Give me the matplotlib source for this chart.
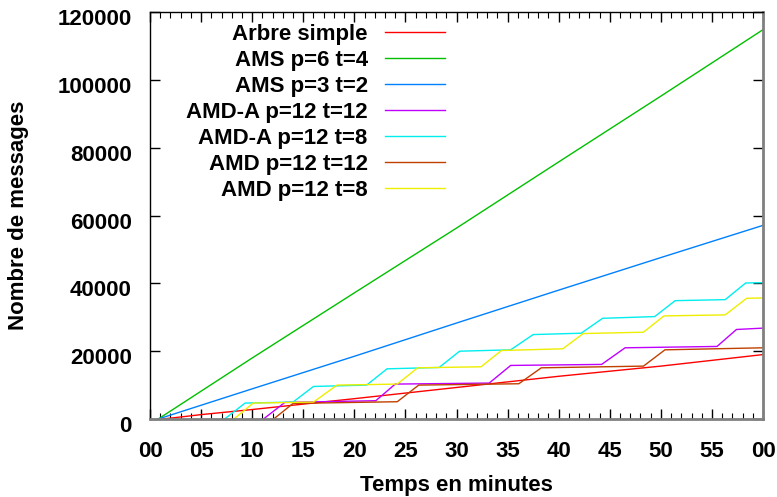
import matplotlib
matplotlib.use("Agg")
import matplotlib.pyplot as plt
import matplotlib.transforms as mtransforms
from matplotlib.ticker import MultipleLocator

plt.rcParams['font.family'] = ['Liberation Sans', 'DejaVu Sans']
plt.rcParams['font.weight'] = 'bold'

# minutes / number of messages (polyline vertices)
arbre_t = [1.2, 3.0, 5.0, 10.0, 20.0, 30.0, 40.0, 50.0, 60.0]
arbre_v = [0, 600, 1300, 2800, 6000, 9300, 12600, 15600, 19000]

ams64_t = [0.8, 10.0, 20.0, 30.0, 40.0, 50.0, 60.0]
ams64_v = [0, 18000, 37200, 56300, 75800, 95200, 114800]

ams32_t = [0.8, 10.0, 20.0, 30.0, 40.0, 50.0, 60.0]
ams32_v = [0, 8900, 18500, 28300, 38000, 47600, 57100]

amda1212_t = [11.1, 13.2, 22.1, 24.0, 33.2, 35.3, 44.2, 46.5, 55.5, 57.4, 60.0]
amda1212_v = [0, 4900, 5400, 10300, 10600, 15800, 16100, 21000, 21400, 26400, 26800]

amda128_t = [7.3, 9.3, 14.0, 16.0, 21.2, 23.2, 28.3, 30.3, 35.3, 37.5,
             42.2, 44.3, 49.4, 51.4, 56.3, 58.3, 60.0]
amda128_v = [0, 4700, 5000, 9600, 10000, 14800, 15200, 20000, 20400, 24900,
             25300, 29700, 30200, 34900, 35200, 40100, 40200]

amd1212_t = [12.1, 14.0, 24.2, 26.3, 36.1, 38.3, 48.3, 50.4, 60.0]
amd1212_v = [0, 4600, 5100, 10000, 10400, 15100, 15600, 20400, 21000]

amd128_t = [8.2, 10.1, 16.0, 18.3, 24.2, 26.2, 32.4, 34.4, 40.4, 42.4,
            48.3, 50.3, 56.3, 58.4, 60.0]
amd128_v = [0, 4700, 5000, 10000, 10300, 15100, 15400, 20200, 20700, 25200,
            25600, 30400, 30700, 35600, 35700]

xtick_pos = [0, 5, 10, 15, 20, 25, 30, 35, 40, 45, 50, 55, 60]
xtick_lab = ['00', '05', '10', '15', '20', '25', '30', '35', '40', '45', '50', '55', '00']
ytick_pos = [0, 20000, 40000, 60000, 80000, 100000, 120000]

fig = plt.figure(figsize=(7.77, 4.97), dpi=100)
ax = fig.add_axes([0.1931, 0.1569, 0.7889, 0.8189])

ax.plot(arbre_t, arbre_v, color='#ff0000', lw=1.0, label='Arbre simple')
ax.plot(ams64_t, ams64_v, color='#00c000', lw=1.0, label='AMS p=6 t=4')
ax.plot(ams32_t, ams32_v, color='#0080ff', lw=1.0, label='AMS p=3 t=2')
ax.plot(amda1212_t, amda1212_v, color='#c000ff', lw=1.0, label='AMD-A p=12 t=12')
ax.plot(amda128_t, amda128_v, color='#00eeee', lw=1.0, label='AMD-A p=12 t=8')
ax.plot(amd1212_t, amd1212_v, color='#c04000', lw=1.0, label='AMD p=12 t=12')
ax.plot(amd128_t, amd128_v, color='#eeee00', lw=1.0, label='AMD p=12 t=8')

ax.set_xlim(0, 60)
ax.set_ylim(0, 120000)
ax.set_xticks(xtick_pos)
ax.set_xticklabels(xtick_lab)
ax.set_yticks(ytick_pos)
ax.xaxis.set_minor_locator(MultipleLocator(1))

ax.tick_params(axis='both', which='both', direction='in', top=True, right=True,
               labelsize=16, colors='black')
ax.tick_params(axis='both', which='major', length=7, width=1)
ax.tick_params(axis='x', which='minor', length=4, width=0.8)
ax.tick_params(axis='x', which='major', pad=16)
ax.tick_params(axis='y', which='major', pad=13)
for lab in ax.get_xticklabels() + ax.get_yticklabels():
    lab.set_fontweight('bold')

# gnuplot puts the y labels a little below their ticks
shift = mtransforms.ScaledTranslation(0, -5 / 100, fig.dpi_scale_trans)
for tick in ax.yaxis.get_major_ticks():
    tick.label1.set_transform(tick.label1.get_transform() + shift)

for side in ['left', 'top']:
    ax.spines[side].set_color('black')
    ax.spines[side].set_linewidth(1.0)
for side in ['right', 'bottom']:
    ax.spines[side].set_color('#808080')
    ax.spines[side].set_linewidth(2.0)

ax.set_xlabel('Temps en minutes', fontsize=16, fontweight='bold', labelpad=9)
ax.set_ylabel('Nombre de messages', fontsize=16, fontweight='bold', labelpad=21)

leg = ax.legend(loc='upper right', bbox_to_anchor=(0.482, 0.970), frameon=False,
                markerfirst=False, handlelength=2.7,
                handletextpad=0.8, labelspacing=0.22, borderpad=0,
                borderaxespad=0, prop={'weight': 'bold', 'size': 16})

fig.savefig('out.png', dpi=100)
